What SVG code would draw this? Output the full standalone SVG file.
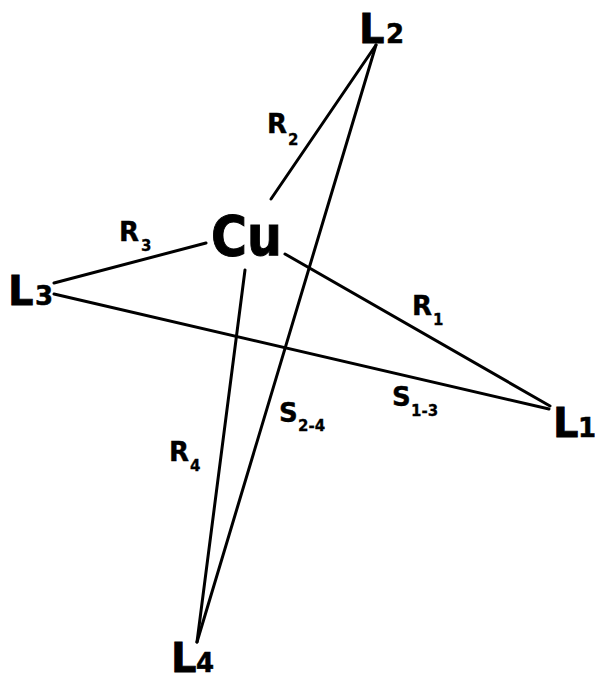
<svg xmlns="http://www.w3.org/2000/svg" width="595" height="673" viewBox="0 0 595 673">
<style>
text{font-family:"DejaVu Sans",Verdana,sans-serif;fill:#000;font-weight:bold;stroke:#000}
.b{font-size:40px;stroke-width:.8px}
.d{font-size:26px;stroke-width:.5px}
.r{font-size:26px;stroke-width:.4px}
.u{font-size:15px;stroke-width:.3px}
#connectors line{stroke:#000;stroke-width:3;stroke-linecap:round}
</style>
<rect width="595" height="673" fill="#fff"/>
<g id="connectors">
<line x1="271" y1="199" x2="376" y2="45"/>
<line x1="376" y1="45" x2="197" y2="642"/>
<line x1="245" y1="270" x2="197" y2="642"/>
<line x1="54" y1="283" x2="206" y2="243"/>
<line x1="54" y1="294" x2="549" y2="409"/>
<line x1="285" y1="254" x2="550" y2="406"/>
</g>
<g id="cu"><text x="211" y="255" style="font-size:55px;stroke-width:1px" textLength="71" lengthAdjust="spacingAndGlyphs">Cu</text></g>
<g id="l2"><text x="359" y="43" class="b">L</text><text x="386" y="43" class="d">2</text></g>
<g id="l3"><text x="8" y="305" class="b">L</text><text x="35" y="305" class="d">3</text></g>
<g id="l1"><text x="553" y="437" class="b">L</text><text x="578" y="437" class="d">1</text></g>
<g id="l4"><text x="171" y="672" class="b">L</text><text x="196" y="672" class="d">4</text></g>
<g id="r2"><text x="267" y="133" class="r">R</text><text x="288" y="145" class="u">2</text></g>
<g id="r3"><text x="119" y="241" class="r">R</text><text x="141" y="251" class="u">3</text></g>
<g id="r1"><text x="412" y="315" class="r">R</text><text x="433" y="325" class="u">1</text></g>
<g id="r4"><text x="169" y="461" class="r">R</text><text x="190" y="471" class="u">4</text></g>
<g id="s13"><text x="392" y="406" class="r">S</text><text x="411" y="416" class="u">1-3</text></g>
<g id="s24"><text x="279" y="422" class="r">S</text><text x="298" y="431" class="u">2-4</text></g>
</svg>
